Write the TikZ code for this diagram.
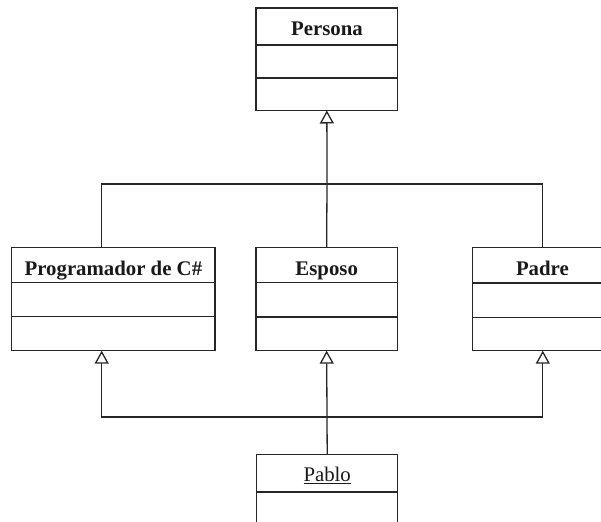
\documentclass[tikz,border=0pt]{standalone}
\usepackage{fontspec}
\setmainfont{Liberation Serif}
\usetikzlibrary{arrows.meta,calc}
\begin{document}
\begin{tikzpicture}[x=1pt,y=-1pt,line width=1.3pt,color=black!85,
  cls/.style={draw, rectangle, minimum width=141pt, minimum height=103.4pt, inner sep=0pt, outer sep=0pt, anchor=north west},
  title/.style={font=\fontsize{20.8}{24}\selectfont\bfseries, anchor=base, inner sep=0pt, text=black!90},
  objname/.style={font=\fontsize{20.8}{24}\selectfont, anchor=base, inner sep=0pt, text=black!90},
  inh/.style={-{Triangle[length=13pt,width=14pt,fill=white]}},
  thick divider/.style={line width=1.8pt}
]
\useasboundingbox (0,0) rectangle (601,521);
\clip (0,0) rectangle (601,521);

% classes
\node[cls, minimum width=141.7pt, minimum height=102.5pt] (persona) at (256,8) {};
\node[title] (personaT) at (327,36) {Persona};
\draw (persona.west |- 0,45) -- (persona.east |- 0,45);
\draw (persona.west |- 0,78) -- (persona.east |- 0,78);

\node[cls, minimum width=203.3pt] (prog) at (11.7,247.3) {};
\node[title] (progT) at (113.4,275.7) {Programador de C\#};
\draw (prog.west |- 0,282.5) -- (prog.east |- 0,282.5);
\draw (prog.west |- 0,316.8) -- (prog.east |- 0,316.8);

\node[cls, minimum width=141.3pt] (esposo) at (256,247.3) {};
\node[title] (esposoT) at (326.7,275.7) {Esposo};
\draw[thick divider] (esposo.west |- 0,282.5) -- (esposo.east |- 0,282.5);
\draw[thick divider] (esposo.west |- 0,316.8) -- (esposo.east |- 0,316.8);

\node[cls, minimum width=141pt] (padre) at (472.3,247.3) {};
\node[title] (padreT) at (542.4,275.7) {Padre};
\draw (padre.west |- 0,283) -- (padre.east |- 0,283);
\draw (padre.west |- 0,317.5) -- (padre.east |- 0,317.5);

\node[cls, minimum width=141pt, minimum height=90pt] (pablo) at (256.7,454.3) {};
\node[objname] (pabloT) at (327.2,481.5) {\underline{Pablo}};
\draw[thick divider] (pablo.west |- 0,491.7) -- (pablo.east |- 0,491.7);

% junctions
\coordinate (jt) at (327,184);
\coordinate (jb) at (327,417);
\coordinate (progtop) at ($(prog.north west)+(90,0)$);
\coordinate (progbot) at ($(prog.south west)+(90,0)$);

% upper generalization
\draw[inh] (jt) -- (persona.south);
\draw (jt) -| (progtop);
\draw (jt) -- (esposo.north);
\draw (jt) -| (padre.north);

% lower generalization
\draw (pablo.north) -- (jb);
\draw[inh] (jb) -- (esposo.south);
\draw[inh] (jb) -| (progbot);
\draw[inh] (jb) -| (padre.south);
\end{tikzpicture}
\end{document}
